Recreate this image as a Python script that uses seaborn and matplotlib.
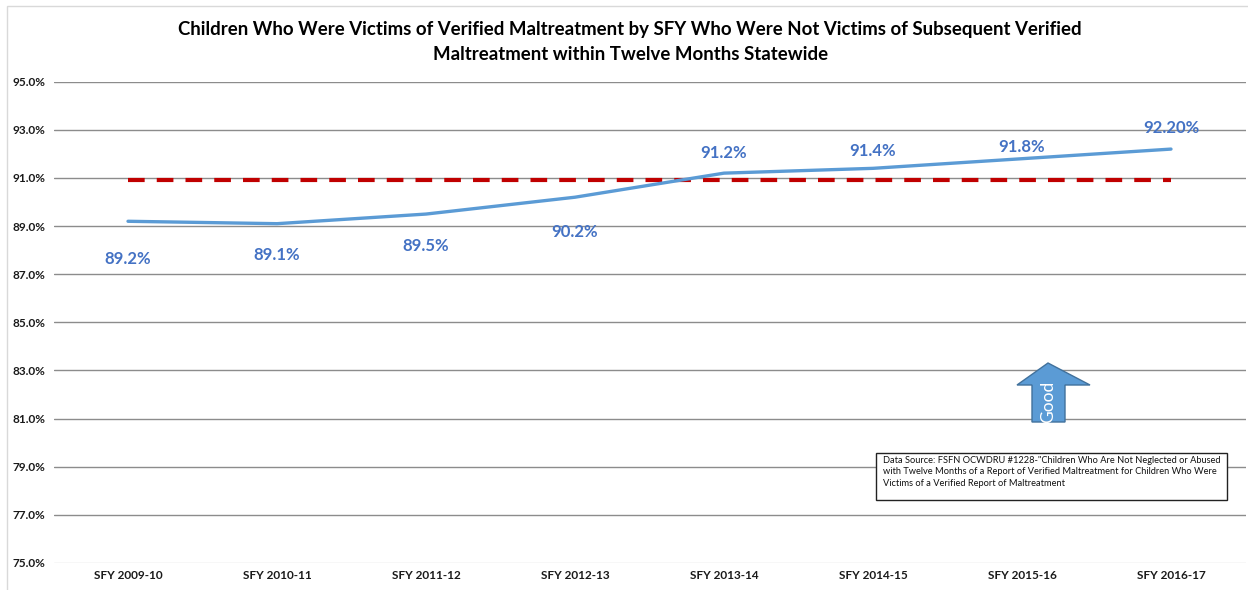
import matplotlib
matplotlib.use("Agg")
import matplotlib.pyplot as plt
import seaborn as sns
import pandas as pd
from matplotlib.patches import Polygon, Rectangle

categories = ["SFY 2009-10", "SFY 2010-11", "SFY 2011-12", "SFY 2012-13",
              "SFY 2013-14", "SFY 2014-15", "SFY 2015-16", "SFY 2016-17"]
values = [89.2, 89.1, 89.5, 90.2, 91.2, 91.4, 91.8, 92.2]
value_labels = ["89.2%", "89.1%", "89.5%", "90.2%", "91.2%", "91.4%", "91.8%", "92.20%"]
target = [90.9] * 8
y_ticks = [75, 77, 79, 81, 83, 85, 87, 89, 91, 93, 95]

# label offsets in pixels (style/position, not data)
label_offsets = [-38, -31, -32, -35, 20, 17, 12, 21]

sns.set_theme(style="white")
plt.rcParams["font.family"] = ["Lato", "DejaVu Sans"]

W, H = 1248, 590
fig = plt.figure(figsize=(W / 100, H / 100), dpi=100)
ax = fig.add_axes([53.5 / W, 1 - 563 / H, (1245.5 - 53.5) / W, (563 - 81.7) / H])

df = pd.DataFrame({"x": range(len(categories)), "value": values, "target": target})

sns.lineplot(data=df, x="x", y="target", ax=ax, color="#C00000", linewidth=3,
             linestyle=(0, (4, 2.9)), zorder=3)
sns.lineplot(data=df, x="x", y="value", ax=ax, color="#5B9BD5", linewidth=2.4, zorder=4)

ax.set_xlim(-0.5, len(categories) - 0.5)
ax.set_ylim(75, 95)
ax.set_yticks(y_ticks)
ax.set_yticklabels([f"{t:.1f}%" for t in y_ticks], fontsize=8.5, fontweight="bold", color="#1a1a1a")
ax.set_xticks(range(len(categories)))
ax.set_xticklabels(categories, fontsize=8.5, fontweight="bold", color="#1a1a1a")
ax.tick_params(axis="x", length=0, pad=5)
ax.tick_params(axis="y", length=0, pad=6)
ax.set_xlabel("")
ax.set_ylabel("")
for s in ax.spines.values():
    s.set_visible(False)
for t in y_ticks:
    ax.axhline(t, color="#D9D9D9" if t == 75 else "#8C8C8C", linewidth=1, zorder=1)

for i, (v, lab) in enumerate(zip(values, value_labels)):
    ax.annotate(lab, (i, v), xytext=(0, label_offsets[i] * 0.72), textcoords="offset points",
                ha="center", va="center", fontsize=12, fontweight="bold", color="#4472C4")

fig.text(0.505, 1 - 30 / H, "Children Who Were Victims of Verified Maltreatment by SFY Who Were Not Victims of Subsequent Verified",
         ha="center", va="center", fontsize=13.4, fontweight="bold", color="#000000")
fig.text(0.505, 1 - 54 / H, "Maltreatment within Twelve Months Statewide",
         ha="center", va="center", fontsize=13.4, fontweight="bold", color="#000000")

# "Good" arrow in pixel coordinates
def px(x, y):
    return (x / W, 1 - y / H)

arrow_pts = [px(1048, 363), px(1090, 385), px(1065, 385), px(1065, 422),
             px(1032, 422), px(1032, 385), px(1017, 385)]
fig.patches.append(Polygon(arrow_pts, closed=True, transform=fig.transFigure,
                           facecolor="#5B9BD5", edgecolor="#41719C", linewidth=1, zorder=5))
fig.text(1048 / W, 1 - 402 / H, "Good", rotation=90, ha="center", va="center",
         fontsize=12.5, color="white", zorder=6)

# data source box
fig.patches.append(Rectangle(px(876, 500), (1227 - 876) / W, (500 - 453) / H,
                             transform=fig.transFigure, facecolor="white",
                             edgecolor="#222222", linewidth=1, zorder=5))
fig.text(883 / W, 1 - 456 / H,
         "Data Source: FSFN OCWDRU #1228-\"Children Who Are Not Neglected or Abused\n"
         "with Twelve Months of a Report of Verified Maltreatment for Children Who Were\n"
         "Victims of a Verified Report of Maltreatment",
         ha="left", va="top", fontsize=6.7, color="#111111", linespacing=1.35, zorder=6)

# chart border
fig.patches.append(Rectangle(px(7, 600), 1.1, (600 - 6) / H, transform=fig.transFigure,
                             facecolor="none", edgecolor="#D9D9D9", linewidth=1, zorder=0))

fig.savefig("out.png", dpi=100)
